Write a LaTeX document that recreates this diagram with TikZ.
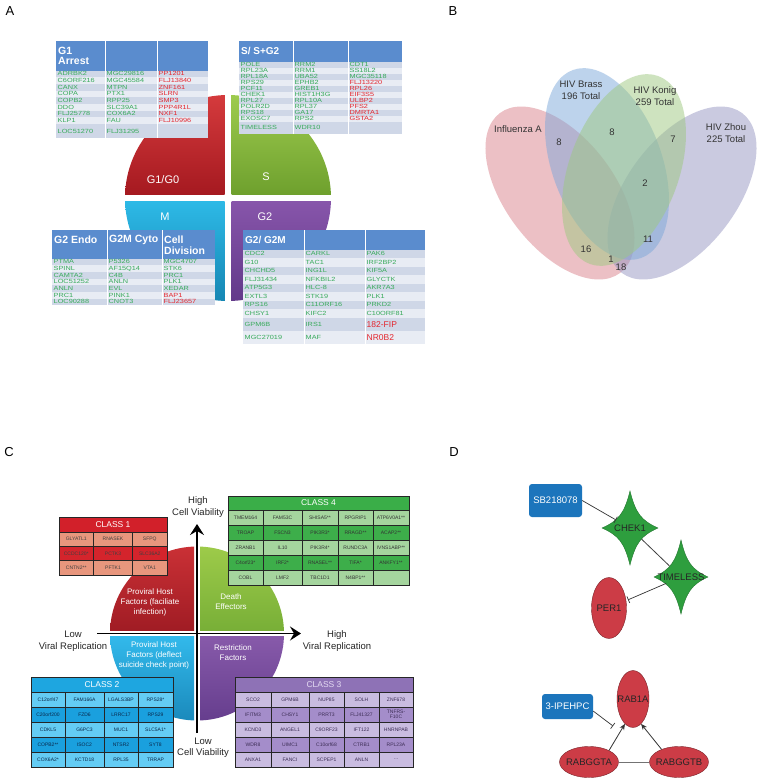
\documentclass[tikz,border=0pt]{standalone}
\usepackage{fontspec}
\setmainfont{Liberation Sans}
\newfontfamily\tabfont[FakeStretch=1.22]{Liberation Sans}
\usetikzlibrary{shapes.geometric,arrows.meta}
\definecolor{hdrblue}{RGB}{90,140,206}
\definecolor{rowdark}{RGB}{207,215,231}
\definecolor{rowlight}{RGB}{232,236,244}
\definecolor{tgreen}{RGB}{55,170,90}
\definecolor{tred}{RGB}{228,38,46}
\definecolor{vpink}{RGB}{218,130,140}
\definecolor{vblue}{RGB}{125,168,218}
\definecolor{vgreen}{RGB}{158,200,128}
\definecolor{vpurple}{RGB}{150,150,195}
\definecolor{c1hdr}{RGB}{210,32,42}
\definecolor{c1light}{RGB}{232,150,125}
\definecolor{c1dark}{RGB}{212,36,44}
\definecolor{c2hdr}{RGB}{30,166,224}
\definecolor{c2light}{RGB}{100,204,244}
\definecolor{c2dark}{RGB}{26,160,222}
\definecolor{c3hdr}{RGB}{142,114,182}
\definecolor{c3light}{RGB}{201,188,224}
\definecolor{c3dark}{RGB}{164,141,202}
\definecolor{c4hdr}{RGB}{58,174,72}
\definecolor{c4light}{RGB}{165,213,158}
\definecolor{c4dark}{RGB}{61,174,74}
\definecolor{dblue}{RGB}{28,117,188}
\definecolor{dgreen}{RGB}{46,158,62}
\definecolor{dred}{RGB}{204,60,70}
\definecolor{c2txt}{RGB}{10,40,75}
\definecolor{c3txt}{RGB}{60,45,85}
\definecolor{c3htxt}{RGB}{228,218,242}
\definecolor{aRedT}{RGB}{215,60,62}\definecolor{aRedB}{RGB}{165,25,32}
\definecolor{aGrnT}{RGB}{160,205,80}\definecolor{aGrnB}{RGB}{110,160,45}
\definecolor{aCyaT}{RGB}{45,185,230}\definecolor{aCyaB}{RGB}{20,130,175}
\definecolor{aPurT}{RGB}{135,85,170}\definecolor{aPurB}{RGB}{95,55,135}
\definecolor{cRedT}{RGB}{205,50,55}\definecolor{cRedB}{RGB}{160,28,36}
\definecolor{cGrnT}{RGB}{160,205,75}\definecolor{cGrnB}{RGB}{120,175,55}
\definecolor{cCyaT}{RGB}{50,185,235}\definecolor{cCyaB}{RGB}{25,135,185}
\definecolor{cPurT}{RGB}{135,90,170}\definecolor{cPurB}{RGB}{100,60,140}
\newcommand\fourstar[4]{%
  \fill[fill=dgreen,draw=dgreen!75!black,line width=0.4pt] (#1,#2-#4) .. controls (#1+0.2*#3,#2-0.4*#4) and (#1+0.4*#3,#2-0.2*#4) .. (#1+#3,#2) .. controls (#1+0.4*#3,#2+0.2*#4) and (#1+0.2*#3,#2+0.4*#4) .. (#1,#2+#4) .. controls (#1-0.2*#3,#2+0.4*#4) and (#1-0.4*#3,#2+0.2*#4) .. (#1-#3,#2) .. controls (#1-0.4*#3,#2-0.2*#4) and (#1-0.2*#3,#2-0.4*#4) .. cycle;}
\begin{document}
\begin{tikzpicture}[x=1pt,y=-1pt,
  acell/.style={anchor=west,inner sep=0,font=\tabfont\fontsize{6}{6}\selectfont},
  ahdr/.style={text=white,font=\fontsize{10}{10.5}\selectfont\bfseries,inner sep=0},
  ccell/.style={inner sep=0,font=\fontsize{5}{5.5}\selectfont,align=center},
  chdr/.style={inner sep=0,font=\fontsize{8.5}{9}\selectfont},
  gridln/.style={draw=black!85,line width=0.9pt},
  panel/.style={font=\fontsize{13}{13}\selectfont,inner sep=0},
  vtxt/.style={font=\fontsize{9.5}{12.5}\selectfont,text=black!80,align=center,inner sep=0},
  axlbl/.style={font=\fontsize{9.5}{11.5}\selectfont,align=center,inner sep=0,text=black!85},
  qtxt/.style={font=\fontsize{8}{10}\selectfont,text=white,align=center,inner sep=0},
  qbig/.style={font=\fontsize{11}{11}\selectfont,text=white,inner sep=0},
  dlbl/.style={font=\fontsize{9.5}{10}\selectfont,inner sep=0},
  axisln/.style={line width=1.6pt,-{Stealth[length=11pt,width=14pt,inset=4pt]}},
  inh/.style={draw=black!80,line width=0.7pt,-{Bar[width=7pt]}},
  actarrow/.style={draw=black!80,line width=0.8pt,-{Stealth[length=6pt,width=5pt]}},
  plainln/.style={draw=black!75,line width=0.8pt},
  redell/.style={ellipse,fill=dred,draw=dred!60!black,line width=0.4pt,inner sep=0},
  bluebox/.style={rounded corners=3pt,fill=dblue,inner sep=0,text=white,font=\fontsize{9.5}{10}\selectfont}
]
\useasboundingbox (0,0) rectangle (760,782);
\fill[white] (0,0) rectangle (760,782);

% panel labels
\node[panel] (labA) at (10,11) {A};
\node[panel] (labB) at (453,11) {B};
\node[panel] (labC) at (9,452) {C};
\node[panel] (labD) at (454,452) {D};

% ===== Panel A: cell cycle =====
\begin{scope}
\clip (228,198) circle[radius=103];
\shade[top color=aRedT,bottom color=aRedB] (120,90) rectangle (224.5,194.5);
\shade[top color=aGrnT,bottom color=aGrnB] (231.5,90) rectangle (340,194.5);
\shade[top color=aCyaT,bottom color=aCyaB] (120,201.5) rectangle (224.5,310);
\shade[top color=aPurT,bottom color=aPurB] (231.5,201.5) rectangle (340,310);
\end{scope}
\node[qbig] (lG1) at (163,180) {G1/G0};
\node[qbig] (lS) at (266,177) {S};
\node[qbig] (lM) at (165,217) {M};
\node[qbig] (lG2) at (265,217) {G2};

% Table 1
\fill[hdrblue] (56,41) rectangle (208,70.5);
\node[ahdr,anchor=west,align=left,font=\fontsize{10.5}{10.5}\selectfont\bfseries] (t1h) at (58,56) {G1\\Arrest};
\foreach \a/\b/\c [count=\i] in {ADRBK2/MGC29816/PP1201, C6ORF216/MGC45584/FLJ13840, CANX/MTPN/ZNF161, COPA/PTX1/SLRN, COPB2/RPP25/SMP3, DDO/SLC39A1/PPP4R1L, FLJ25778/COX6A2/NXF1, KLP1/FAU/FLJ10996}{
  \pgfmathsetmacro\yt{70.5+6.67*(\i-1)}
  \ifodd\i\relax\def\rc{rowdark}\else\def\rc{rowlight}\fi
  \fill[fill=\rc] (56,\yt) rectangle (208,\yt+6.67);
  \node[acell,text=tgreen] (t1a\i) at (57.5,\yt+3.4) {\a};
  \node[acell,text=tgreen] (t1b\i) at (106.5,\yt+3.4) {\b};
  \node[acell,text=tred] (t1c\i) at (158.5,\yt+3.4) {\c};
}
\fill[rowdark] (56,123.9) rectangle (208,138);
\node[acell,text=tgreen] (t1a9) at (57.5,131) {LOC51270};
\node[acell,text=tgreen] (t1b9) at (106.5,131) {FLJ31295};
\draw[white,line width=0.8pt] (105,41) -- (105,138) (157,41) -- (157,138);

% Table 2
\fill[hdrblue] (239,41) rectangle (402,61.5);
\node[ahdr,anchor=west] (t2h) at (241,51) {S/ S+G2};
\foreach \a/\b/\c/\cc [count=\i] in {POLE/RRM2/CDT1/tgreen, RPL23A/RRM1/SS18L2/tgreen, RPL18A/UBA52/MGC35118/tgreen, RPS29/EPHB2/FLJ13220/tred, PCF11/GREB1/RPL26/tred, CHEK1/HIST1H3G/EIF3S5/tred, RPL27/RPL10A/ULBP2/tred, POLR2D/RPL37/PFS2/tred, RPS18/GA17/DMRTA1/tred, EXOSC7/RPS2/GSTA2/tred}{
  \pgfmathsetmacro\yt{61.5+6*(\i-1)}
  \ifodd\i\relax\def\rc{rowdark}\else\def\rc{rowlight}\fi
  \fill[fill=\rc] (239,\yt) rectangle (402,\yt+6);
  \node[acell,text=tgreen] (t2a\i) at (240.5,\yt+3.1) {\a};
  \node[acell,text=tgreen] (t2b\i) at (294.5,\yt+3.1) {\b};
  \node[acell,text=\cc] (t2c\i) at (349.5,\yt+3.1) {\c};
}
\fill[rowdark] (239,121.5) rectangle (402,134);
\node[acell,text=tgreen] (t2a11) at (240.5,127.8) {TIMELESS};
\node[acell,text=tgreen] (t2b11) at (294.5,127.8) {WDR10};
\draw[white,line width=0.8pt] (293,41) -- (293,134) (348,41) -- (348,134);

% Table 3
\fill[hdrblue] (52,230) rectangle (215,258.5);
\node[ahdr,anchor=west,font=\fontsize{10.5}{10.5}\selectfont\bfseries] (t3h1) at (54,240) {G2 Endo};
\node[ahdr,anchor=west,font=\fontsize{10.5}{10.5}\selectfont\bfseries] (t3h2) at (109,240) {G2M Cyto};
\node[ahdr,anchor=west,align=left,font=\fontsize{10.5}{10.5}\selectfont\bfseries] (t3h3) at (164,245) {Cell\\Division};
\foreach \a/\b/\c/\cc [count=\i] in {PTMA/P5326/MGC4707/tgreen, SPINL/AF15Q14/STK6/tgreen, CAMTA2/C4B/PRC1/tgreen, LOC51252/ANLN/PLK1/tgreen, ANLN/EVL/XEDAR/tgreen, PRC1/PINK1/BAP1/tred, LOC90288/CNOT3/FLJ23657/tred}{
  \pgfmathsetmacro\yt{258.5+6.67*(\i-1)}
  \ifodd\i\relax\def\rc{rowdark}\else\def\rc{rowlight}\fi
  \fill[fill=\rc] (52,\yt) rectangle (215,\yt+6.67);
  \node[acell,text=tgreen] (t3a\i) at (53.5,\yt+3.4) {\a};
  \node[acell,text=tgreen] (t3b\i) at (108.5,\yt+3.4) {\b};
  \node[acell,text=\cc] (t3c\i) at (163.5,\yt+3.4) {\c};
}
\draw[white,line width=0.8pt] (107,230) -- (107,305.2) (162,230) -- (162,305.2);

% Table 4
\fill[hdrblue] (243,230) rectangle (425,249.5);
\node[ahdr,anchor=west] (t4h) at (245,240) {G2/ G2M};
\foreach \a/\b/\c/\yc/\h [count=\i] in {CDC2/CARKL/PAK6/253.75/8.5, G10/TAC1/IRF2BP2/262.25/8.5, CHCHD5/ING1L/KIF5A/270.75/8.5, FLJ31434/NFKBIL2/GLYCTK/279.25/8.5, ATP5G3/HLC-8/AKR7A3/287.75/8.5, EXTL3/STK19/PLK1/296.25/8.5, RPS16/C11ORF16/PRKD2/304.75/8.5, CHSY1/KIFC2/C10ORF81/313.25/8.5}{
  \ifodd\i\relax\def\rc{rowdark}\else\def\rc{rowlight}\fi
  \fill[fill=\rc] (243,\yc-\h/2) rectangle (425,\yc+\h/2);
  \node[acell,text=tgreen] (t4a\i) at (244.5,\yc) {\a};
  \node[acell,text=tgreen] (t4b\i) at (305.5,\yc) {\b};
  \node[acell,text=tgreen] (t4c\i) at (366.5,\yc) {\c};
}
\fill[rowdark] (243,317.5) rectangle (425,331);
\fill[rowlight] (243,331) rectangle (425,344);
\node[acell,text=tgreen] (t4a9) at (244.5,324.3) {GPM6B};
\node[acell,text=tgreen] (t4b9) at (305.5,324.3) {IRS1};
\node[acell,text=tred,font=\fontsize{8.5}{8.5}\selectfont] (t4c9) at (366.5,324.3) {182-FIP};
\node[acell,text=tgreen] (t4a10) at (244.5,337.5) {MGC27019};
\node[acell,text=tgreen] (t4b10) at (305.5,337.5) {MAF};
\node[acell,text=tred,font=\fontsize{8.5}{8.5}\selectfont] (t4c10) at (366.5,337.5) {NR0B2};
\draw[white,line width=0.8pt] (304,230) -- (304,344) (365,230) -- (365,344);

% ===== Panel B: Venn =====
\fill[vpink,fill opacity=0.5,rotate around={-53:(560,193)}] (560,193) ellipse[x radius=100,y radius=55];
\fill[vpurple,fill opacity=0.5,rotate around={53:(682,193)}] (682,193) ellipse[x radius=100,y radius=55];
\fill[vblue,fill opacity=0.5,rotate around={-70:(607,164)}] (607,164) ellipse[x radius=100,y radius=55];
\fill[vgreen,fill opacity=0.5,rotate around={70:(624,170)}] (624,170) ellipse[x radius=100,y radius=55];
\node[vtxt] (vInf) at (518,129) {Influenza A};
\node[vtxt] (vBrass) at (581,90.5) {HIV Brass\\196 Total};
\node[vtxt] (vKonig) at (655,96) {HIV Konig\\259 Total};
\node[vtxt] (vZhou) at (726,133) {HIV Zhou\\225 Total};
\node[vtxt] (n1) at (559,142) {8};
\node[vtxt] (n2) at (612,132) {8};
\node[vtxt] (n3) at (673,139) {7};
\node[vtxt] (n4) at (645,183) {2};
\node[vtxt] (n5) at (648,239) {11};
\node[vtxt] (n6) at (586,249) {16};
\node[vtxt] (n7) at (611,259) {1};
\node[vtxt] (n8) at (621,267) {18};

% ===== Panel C =====
\begin{scope}
\clip (197,633.5) circle[radius=87];
\shade[top color=cRedT,bottom color=cRedB] (105,540) rectangle (194,630.5);
\shade[top color=cGrnT,bottom color=cGrnB] (200,540) rectangle (290,630.5);
\shade[top color=cCyaT,bottom color=cCyaB] (105,636.5) rectangle (194,725);
\shade[top color=cPurT,bottom color=cPurB] (200,636.5) rectangle (290,725);
\end{scope}
\node[qtxt] (q1) at (150,602) {Proviral Host\\Factors (faciliate\\infection)};
\node[qtxt] (q2) at (231,602) {Death\\Effectors};
\node[qtxt] (q3) at (154,655) {Proviral Host\\Factors (deflect\\suicide check point)};
\node[qtxt] (q4) at (233,653) {Restriction\\Factors};
\coordinate (vB) at (197,733);
\coordinate (vT) at (197,524);
\coordinate (hL) at (97,633.5);
\coordinate (hR) at (301,633.5);
\draw[axisln] (vB) -- (vT);
\draw[axisln] (hL) -- (hR);
\node[axlbl] (hiCV) at (198,507) {High\\Cell Viability};
\node[axlbl] (loCV) at (203,747.5) {Low\\Cell Viability};
\node[axlbl] (loVR) at (73,641) {Low\\Viral Replication};
\node[axlbl] (hiVR) at (337,641) {High\\Viral Replication};

% Class 1
\fill[c1hdr] (59,517) rectangle (167,532);
\node[chdr,text=white] (c1h) at (113,524.5) {CLASS 1};
\foreach \a/\b/\c [count=\i] in {GLYATL1/RNASEK/SFPQ, CCDC120*/PCTK3/SLC36A2, CNTN2**/PFTK1/VTA1}{
  \pgfmathsetmacro\yt{532+14.33*(\i-1)}
  \ifodd\i\relax\def\rc{c1light}\else\def\rc{c1dark}\fi
  \fill[fill=\rc] (59,\yt) rectangle (167,\yt+14.33);
  \node[ccell,text=black!75] (c1a\i) at (76.25,\yt+7.2) {\a};
  \node[ccell,text=black!75] (c1b\i) at (113,\yt+7.2) {\b};
  \node[ccell,text=black!75] (c1c\i) at (149.75,\yt+7.2) {\c};
}
\draw[gridln] (59,517) rectangle (167,575);
\draw[gridln] (93.5,532) -- (93.5,575) (132.5,532) -- (132.5,575);
\draw[gridln] (59,532) -- (167,532) (59,546.33) -- (167,546.33) (59,560.67) -- (167,560.67);

% Class 4
\fill[c4hdr] (228,496) rectangle (409,510);
\node[chdr,text=white] (c4h) at (318.5,503) {CLASS 4};
\foreach \a/\b/\c/\d/\e [count=\i] in {TMEM164/FAM53C/SHISA5**/RPGRIP1/ATP6V0A1**, TROAP/FSCN3/PIK3R3*/RRAGD**/ACAP2**, ZRANB1/IL10/PIK3R4*/RUNDC3A/IVNS1ABP**, C4orf23*/IRF2*/RNASEL**/TIFA*/ANKFY1**, COBL/LMF2/TBC1D1/N4BP1**/{}}{
  \pgfmathsetmacro\yt{510+15*(\i-1)}
  \ifodd\i\relax\def\rc{c4light}\else\def\rc{c4dark}\fi
  \fill[fill=\rc] (228,\yt) rectangle (409,\yt+15);
  \node[ccell,text=black!80] (c4a\i) at (245.5,\yt+7.5) {\a};
  \node[ccell,text=black!80] (c4b\i) at (282.5,\yt+7.5) {\b};
  \node[ccell,text=black!80] (c4c\i) at (320,\yt+7.5) {\c};
  \node[ccell,text=black!80] (c4d\i) at (355.5,\yt+7.5) {\d};
  \node[ccell,text=black!80] (c4e\i) at (391,\yt+7.5) {\e};
}
\draw[gridln] (228,496) rectangle (409,585);
\foreach \x in {263,302,338,373} \draw[gridln] (\x,510) -- (\x,585);
\foreach \y in {510,525,540,555,570} \draw[gridln] (228,\y) -- (409,\y);

% Class 2
\fill[c2hdr] (31,677) rectangle (173,692);
\node[chdr,text=white] (c2h) at (102,684.5) {CLASS 2};
\foreach \a/\b/\c/\d [count=\i] in {C12orf47/FAM166A/LGALS3BP/RPS28*, C20orf200/FZD6/LRRC17/RPS29, CDKL5/G6PC3/MUC1/SLC5A1*, COPB2**/ISOC2/NTSR2/SYT8, COX6A2*/KCTD18/RPL35/TRRAP}{
  \pgfmathsetmacro\yt{692+15*(\i-1)}
  \ifodd\i\relax\def\rc{c2light}\else\def\rc{c2dark}\fi
  \fill[fill=\rc] (31,\yt) rectangle (173,\yt+15);
  \node[ccell,text=c2txt] (c2a\i) at (48,\yt+7.5) {\a};
  \node[ccell,text=c2txt] (c2b\i) at (84.5,\yt+7.5) {\b};
  \node[ccell,text=c2txt] (c2c\i) at (121,\yt+7.5) {\c};
  \node[ccell,text=c2txt] (c2d\i) at (155.5,\yt+7.5) {\d};
}
\draw[gridln] (31,677) rectangle (173,767);
\foreach \x in {65,104,138} \draw[gridln] (\x,692) -- (\x,767);
\foreach \y in {692,707,722,737,752} \draw[gridln] (31,\y) -- (173,\y);

% Class 3
\fill[c3hdr] (235,677) rectangle (413,692);
\node[chdr,text=c3htxt] (c3h) at (324,684.5) {CLASS 3};
\foreach \a/\b/\c/\d/\e [count=\i] in {SCO2/GPM6B/NUP85/SOLH/ZNF678, IFITM3/CHSY1/PRRT3/FLJ41327/TNFRS-\\F10C, KCND3/ANGEL1/C9ORF23/IFT122/HNRNPAB, WDR8/UIMC1/C10orf68/CTRB1/RPL23A, ANXA1/FANCI/SCPEP1/ANLN/{\ldots}}{
  \pgfmathsetmacro\yt{692+15*(\i-1)}
  \ifodd\i\relax\def\rc{c3light}\else\def\rc{c3dark}\fi
  \fill[fill=\rc] (235,\yt) rectangle (413,\yt+15);
  \node[ccell,text=c3txt] (c3a\i) at (253,\yt+7.5) {\a};
  \node[ccell,text=c3txt] (c3b\i) at (290,\yt+7.5) {\b};
  \node[ccell,text=c3txt] (c3c\i) at (326.5,\yt+7.5) {\c};
  \node[ccell,text=c3txt] (c3d\i) at (361.5,\yt+7.5) {\d};
  \node[ccell,text=c3txt] (c3e\i) at (396,\yt+7.5) {\e};
}
\draw[gridln] (235,677) rectangle (413,767);
\foreach \x in {271,309,344,379} \draw[gridln] (\x,692) -- (\x,767);
\foreach \y in {692,707,722,737,752} \draw[gridln] (235,\y) -- (413,\y);

% ===== Panel D =====
\fourstar{630}{528}{28}{37}
\fourstar{681}{577}{27}{37}
\node[circle,minimum size=32,inner sep=0] (chek1) at (630,528) {};
\node[circle,minimum size=32,inner sep=0] (timeless) at (681,577) {};
\node[redell,minimum width=35,minimum height=61] (per1) at (609,608) {};
\node[bluebox,minimum width=53,minimum height=33] (sb) at (555.5,500.5) {SB218078};
\node[dlbl,text=black!85] (chek1L) at (chek1) {CHEK1};
\node[dlbl,text=black!85] (timelessL) at (timeless) {TIMELESS};
\node[dlbl,text=black!85] (per1L) at (per1) {PER1};
\draw[inh] (sb.east) -- (chek1);
\draw[plainln] (chek1) -- (timeless);
\draw[inh,shorten >=2pt] (timeless) -- (per1);

\node[redell,minimum width=32,minimum height=57] (rab1a) at (633,699) {};
\node[redell,minimum width=59,minimum height=31] (rabggta) at (589,762) {};
\node[redell,minimum width=59,minimum height=31] (rabggtb) at (679,762) {};
\node[bluebox,minimum width=51,minimum height=25] (ipe) at (567.5,706.5) {3-IPEHPC};
\node[dlbl,text=black!85] (rab1aL) at (rab1a) {RAB1A};
\node[dlbl,text=black!85] (rabggtaL) at (rabggta) {RABGGTA};
\node[dlbl,text=black!85] (rabggtbL) at (rabggtb) {RABGGTB};
\coordinate (ipeEnd) at (613,726);
\draw[inh] (ipe.-10) -- (ipeEnd);
\draw[actarrow] (rabggta.30) -- (rab1a.252);
\draw[actarrow] (rabggtb.144) -- (rab1a.288);
\draw[draw=black!55,line width=1pt] (rabggta) -- (rabggtb);
\end{tikzpicture}
\end{document}
